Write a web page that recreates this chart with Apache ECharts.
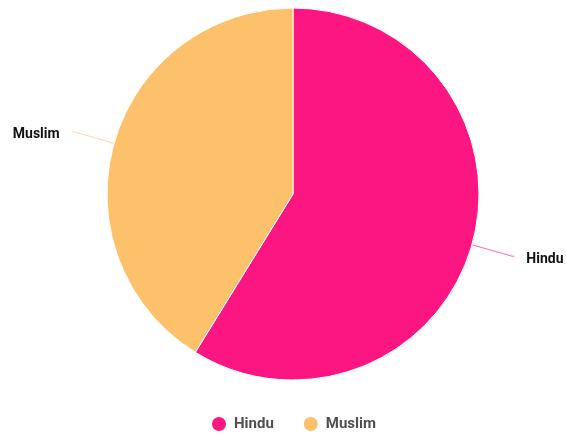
<!DOCTYPE html>
<html>
<head>
<meta charset="utf-8">
<script src="https://cdn.jsdelivr.net/npm/echarts@6/dist/echarts.min.js"></script>
<style>
  html, body { margin: 0; padding: 0; background: #fff; }
  #chart { width: 566px; height: 436px; }
</style>
</head>
<body>
<div id="chart"></div>
<script>
// Religion share
const categories = ['Hindu', 'Muslim'];
const values = [58.8, 41.2];
const colors = ['#FC1682', '#FDC16C'];

const chart = echarts.init(document.getElementById('chart'));
chart.setOption({
  animation: false,
  color: colors,
  legend: {
    top: 415,
    left: 210,
    padding: 0,
    icon: 'circle',
    itemWidth: 16,
    itemHeight: 16,
    itemGap: 28,
    textStyle: {
      color: '#505050', fontSize: 15, fontWeight: 'bold', fontFamily: 'Roboto',
      padding: [0, 0, 0, 2]
    },
    data: categories
  },
  series: [{
    type: 'pie',
    center: [293, 194],
    radius: 186,
    startAngle: 90,
    clockwise: true,
    itemStyle: { borderColor: '#fff', borderWidth: 1 },
    label: {
      show: true,
      color: '#111',
      fontSize: 14,
      fontWeight: 'bold',
      fontFamily: 'Roboto',
      overflow: 'none',
      distanceToLabelLine: 12
    },
    labelLine: {
      show: true,
      length: 42,
      length2: 2,
      smooth: false,
      lineStyle: { width: 1.2, opacity: 0.6 }
    },
    labelLayout: { dy: 3 },
    data: categories.map((name, i) => ({ name, value: values[i] }))
  }]
});
</script>
</body>
</html>
